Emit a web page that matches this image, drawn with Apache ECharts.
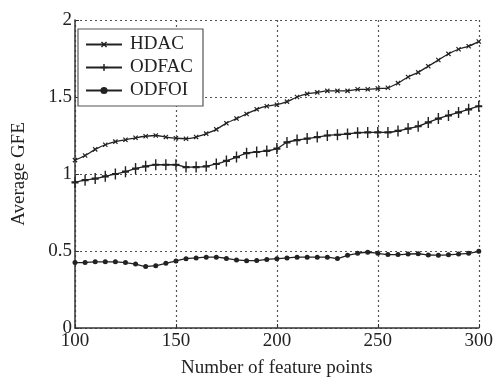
<!DOCTYPE html>
<html>
<head>
<meta charset="utf-8">
<script src="https://cdn.jsdelivr.net/npm/echarts@6/dist/echarts.min.js"></script>
<style>html,body{margin:0;padding:0;background:#fff}#c{width:496px;height:383px}</style>
</head>
<body>
<div id="c"></div>
<script>
const xValues = [100,105,110,115,120,125,130,135,140,145,150,155,160,165,170,175,180,185,190,195,200,205,210,215,220,225,230,235,240,245,250,255,260,265,270,275,280,285,290,295,300];
const hdac = [1.09,1.12,1.16,1.19,1.21,1.222,1.235,1.245,1.25,1.24,1.232,1.229,1.24,1.262,1.29,1.33,1.36,1.39,1.42,1.44,1.45,1.47,1.50,1.52,1.53,1.54,1.54,1.54,1.55,1.55,1.555,1.56,1.59,1.63,1.66,1.70,1.74,1.78,1.81,1.83,1.86];
const odfac = [0.945,0.96,0.97,0.985,1.0,1.015,1.035,1.05,1.06,1.06,1.06,1.045,1.045,1.05,1.065,1.085,1.11,1.135,1.143,1.15,1.165,1.205,1.22,1.23,1.24,1.25,1.255,1.26,1.268,1.27,1.27,1.27,1.28,1.295,1.31,1.335,1.36,1.38,1.40,1.42,1.44];
const odfoi = [0.425,0.425,0.43,0.43,0.43,0.425,0.415,0.40,0.405,0.42,0.435,0.45,0.455,0.46,0.46,0.452,0.442,0.437,0.438,0.445,0.45,0.455,0.46,0.46,0.46,0.46,0.452,0.472,0.485,0.492,0.485,0.477,0.477,0.48,0.482,0.474,0.473,0.475,0.48,0.485,0.498];
const seriesNames = ['HDAC','ODFAC','ODFOI'];
const xTicks = [100,150,200,250,300];
const yTicks = [0,0.5,1,1.5,2];

const FONT = '"Liberation Serif","DejaVu Serif",serif';
const INK = '#222';
function pairs(vals){ return xValues.map((x,i)=>[x, vals[i]]); }
const plus = 'path://M4,0H6V4H10V6H6V10H4V6H0V4H4Z';
const baseSeries = {type:'line', smooth:0.3, lineStyle:{color:INK,width:1.3}, itemStyle:{color:INK}, emphasis:{disabled:true}};

const chart = echarts.init(document.getElementById('c'), null, {renderer:'canvas'});
chart.setOption({
  animation:false,
  backgroundColor:'#fff',
  grid:{left:75,right:17,top:20,bottom:50},
  legend:{
    orient:'vertical', left:78, top:29, padding:[6,10,6,7],
    backgroundColor:'#fff',
    borderColor:'#555', borderWidth:1.2, itemGap:4, itemWidth:36, itemHeight:9,
    textStyle:{fontFamily:FONT,fontSize:19,color:INK,padding:[0,0,0,3]},
    data:seriesNames
  },
  xAxis:{
    type:'value', min:100, max:300, interval:50,
    name:'Number of feature points', nameLocation:'middle', nameGap:31,
    nameTextStyle:{fontFamily:FONT,fontSize:19,color:INK},
    axisLine:{show:true,lineStyle:{color:'#333',width:1.5}},
    axisTick:{show:true,inside:true,length:4,lineStyle:{color:'#333'}},
    axisLabel:{fontFamily:FONT,fontSize:19,color:INK,margin:4,customValues:xTicks},
    splitLine:{show:true,lineStyle:{color:'#555',type:[2,3],width:1.2}}
  },
  yAxis:{
    type:'value', min:0, max:2, interval:0.5,
    name:'Average GFE', nameLocation:'middle', nameGap:46,
    nameTextStyle:{fontFamily:FONT,fontSize:19,color:INK},
    axisLine:{show:true,lineStyle:{color:'#333',width:1.5}},
    axisTick:{show:true,inside:true,length:4,lineStyle:{color:'#333'}},
    axisLabel:{fontFamily:FONT,fontSize:19,color:INK,margin:3,formatter:v=>String(v)},
    splitLine:{show:true,lineStyle:{color:'#555',type:[2,3],width:1.2}}
  },
  series:[
    Object.assign({}, baseSeries, {name:seriesNames[0], data:pairs(hdac), symbol:plus, symbolSize:6, symbolRotate:45}),
    Object.assign({}, baseSeries, {name:seriesNames[1], data:pairs(odfac), symbol:plus, symbolSize:[7,11]}),
    Object.assign({}, baseSeries, {name:seriesNames[2], data:pairs(odfoi), symbol:'circle', symbolSize:5})
  ]
});
</script>
</body>
</html>
